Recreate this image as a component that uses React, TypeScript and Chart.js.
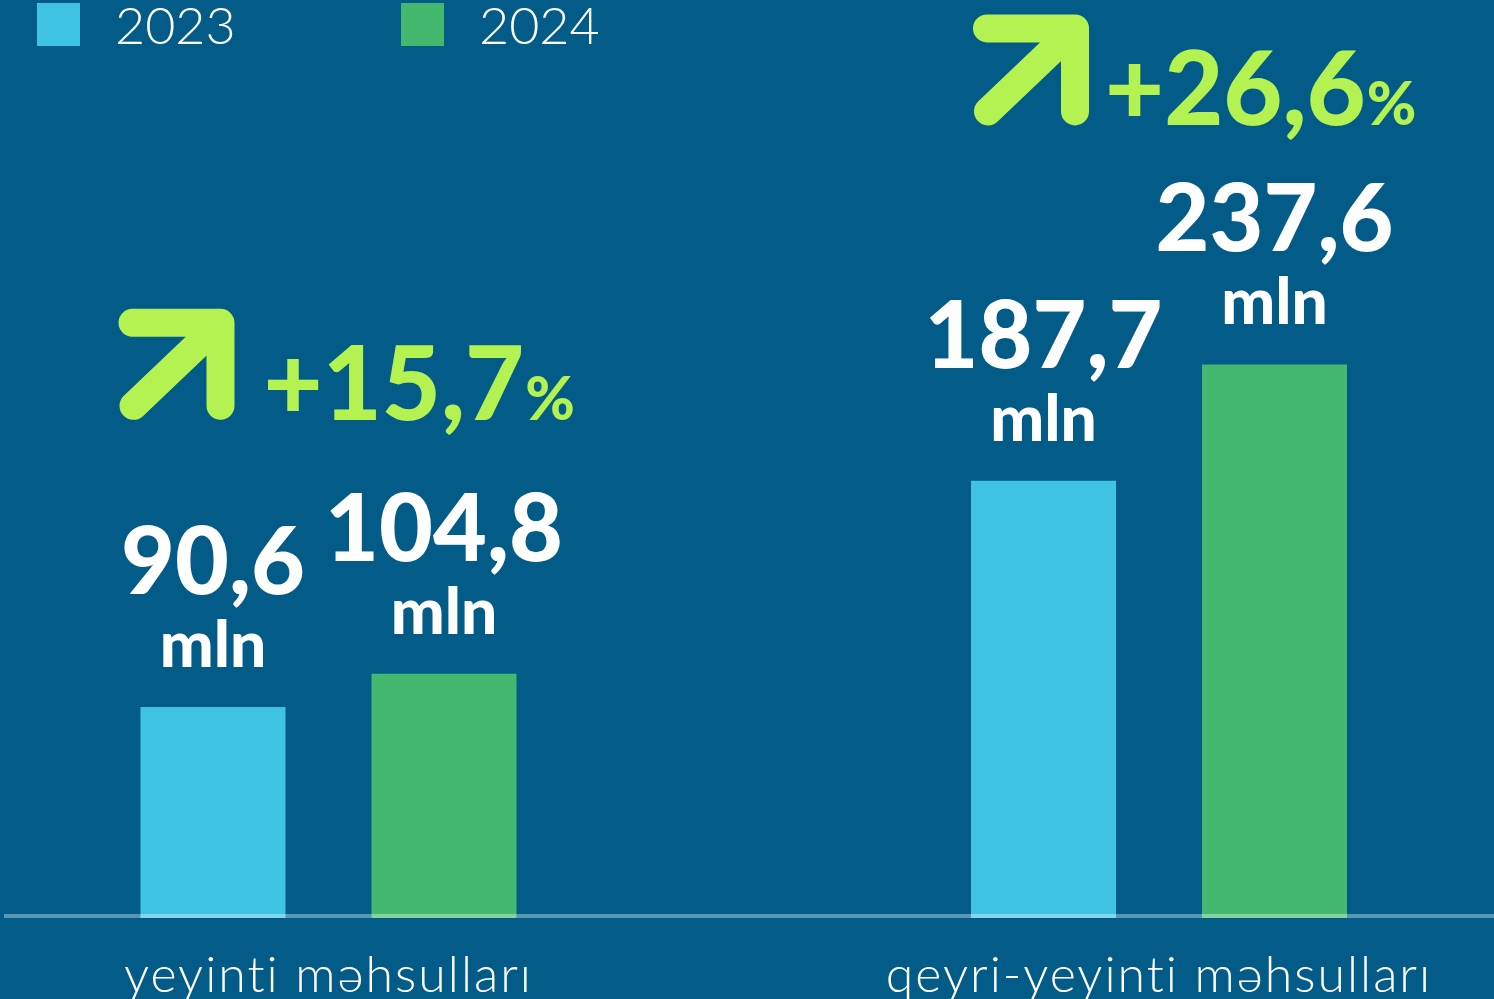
import React, { useEffect, useRef } from 'react';
import { Chart, registerables } from 'chart.js';

Chart.register(...registerables);

// ---- data ----
const categories = ['yeyinti məhsulları', 'qeyri-yeyinti məhsulları'];
const seriesLabels = ['2023', '2024'];
const values2023 = [90.6, 187.7];
const values2024 = [104.8, 237.6];
const growthTexts = ['+15,7', '+26,6'];
const unitLabel = 'mln';
const percentSign = '%';

// ---- styles ----
const BG = '#035c87';
const BLUE = '#3ec4e2';
const GREEN = '#45b870';
const LIME = '#b4f251';
const FONT = 'Lato, "Noto Sans", sans-serif';
const W = 1494;
const H = 1010;

const fmt = (v: number) => v.toFixed(1).replace('.', ',');

const spacingPlugin = {
  id: 'letterSpacing',
  beforeDraw(chart: any) {
    chart.ctx.letterSpacing = '2px';
  },
};

const legendPlugin = {
  id: 'customLegend',
  afterDraw(chart: any) {
    const ctx = chart.ctx;
    ctx.save();
    ctx.letterSpacing = '0px';
    ctx.textAlign = 'left';
    ctx.textBaseline = 'alphabetic';
    ctx.font = `300 52px ${FONT}`;
    chart.data.datasets.forEach((ds: any, i: number) => {
      const x = 37 + i * 364;
      ctx.fillStyle = ds.backgroundColor;
      ctx.fillRect(x, 3, 43, 43);
      ctx.fillStyle = '#ffffff';
      ctx.fillText(ds.label, x + 78, 44);
    });
    ctx.restore();
  },
};

const baselinePlugin = {
  id: 'baseline',
  afterDatasetsDraw(chart: any) {
    const ctx = chart.ctx;
    const y = chart.scales.y.getPixelForValue(0) - 2;
    ctx.save();
    ctx.strokeStyle = 'rgba(255,255,255,0.35)';
    ctx.lineWidth = 4;
    ctx.beginPath();
    ctx.moveTo(4, y);
    ctx.lineTo(chart.width, y);
    ctx.stroke();
    ctx.restore();
  },
};

const valueLabelPlugin = {
  id: 'valueLabels',
  afterDatasetsDraw(chart: any) {
    const ctx = chart.ctx;
    ctx.save();
    ctx.letterSpacing = '0px';
    ctx.fillStyle = '#ffffff';
    ctx.textAlign = 'center';
    ctx.textBaseline = 'alphabetic';
    chart.data.datasets.forEach((ds: any, di: number) => {
      const meta = chart.getDatasetMeta(di);
      meta.data.forEach((bar: any, i: number) => {
        ctx.font = `900 93px ${FONT}`;
        ctx.fillText(fmt(ds.data[i]), bar.x, bar.y - 113);
        ctx.font = `900 64px ${FONT}`;
        ctx.fillText(unitLabel, bar.x, bar.y - 40);
      });
    });
    ctx.restore();
  },
};

// layout tweaks for the growth badges (pixel offsets, per category)
const badgeShiftX = [-22, 2];
const badgeGapY = [73, 58];
const badgeTextGap = [145, 132];

const drawArrow = (ctx: any, ax: number, ay: number) => {
  ctx.save();
  ctx.strokeStyle = LIME;
  ctx.lineWidth = 28;
  ctx.lineCap = 'round';
  ctx.lineJoin = 'round';
  ctx.beginPath();
  ctx.moveTo(ax + 14, ay + 14);
  ctx.lineTo(ax + 102, ay + 14);
  ctx.lineTo(ax + 102, ay + 97);
  ctx.stroke();
  ctx.beginPath();
  ctx.moveTo(ax + 100, ay + 16);
  ctx.lineTo(ax + 15, ay + 97);
  ctx.stroke();
  ctx.restore();
};

const growthPlugin = {
  id: 'growth',
  afterDatasetsDraw(chart: any) {
    const ctx = chart.ctx;
    const metas = chart.data.datasets.map((_: any, di: number) => chart.getDatasetMeta(di));
    categories.forEach((_, i) => {
      const bars = metas.map((m: any) => m.data[i]);
      const topY = Math.min(...bars.map((b: any) => b.y));
      const leftX = Math.min(...bars.map((b: any) => b.x - b.width / 2));
      const baseline = topY - 113 - 68 - badgeGapY[i];
      const ax = leftX + badgeShiftX[i];
      drawArrow(ctx, ax, baseline - 111);
      ctx.save();
      ctx.letterSpacing = '0px';
      ctx.fillStyle = LIME;
      ctx.textAlign = 'left';
      ctx.textBaseline = 'alphabetic';
      ctx.font = `900 102px ${FONT}`;
      const tx = ax + badgeTextGap[i];
      ctx.fillText(growthTexts[i], tx, baseline);
      const tw = ctx.measureText(growthTexts[i]).width;
      ctx.font = `900 60px ${FONT}`;
      ctx.fillText(percentSign, tx + tw + 1, baseline);
      ctx.restore();
    });
  },
};

export default function App() {
  const ref = useRef<HTMLCanvasElement | null>(null);

  useEffect(() => {
    if (!ref.current) return;
    const chart = new Chart(ref.current, {
      type: 'bar',
      data: {
        labels: categories,
        datasets: [
          {
            label: seriesLabels[0],
            data: values2023,
            backgroundColor: BLUE,
            borderWidth: 0,
            categoryPercentage: 0.5563,
            barPercentage: 0.6277,
            clip: false,
          } as any,
          {
            label: seriesLabels[1],
            data: values2024,
            backgroundColor: GREEN,
            borderWidth: 0,
            categoryPercentage: 0.5563,
            barPercentage: 0.6277,
            clip: false,
          } as any,
        ],
      },
      options: {
        responsive: false,
        animation: false,
        layout: { padding: { left: 328.5, right: 335, top: 335.5, bottom: 0 } },
        plugins: {
          legend: { display: false },
          tooltip: { enabled: false },
          title: { display: false },
        },
        scales: {
          x: {
            offset: false,
            grid: { display: false, drawTicks: false },
            border: { display: false },
            ticks: {
              color: '#ffffff',
              font: { family: FONT, size: 50, weight: '300' as any },
              padding: 28,
              maxRotation: 0,
              autoSkip: false,
            },
            afterFit(scale: any) {
              scale.height = 92;
            },
          },
          y: {
            display: false,
            min: 0,
            max: 250,
          },
        },
      },
      plugins: [spacingPlugin, baselinePlugin, valueLabelPlugin, growthPlugin, legendPlugin],
    });
    return () => chart.destroy();
  }, []);

  return (
    <div
      style={{
        position: 'fixed',
        left: 0,
        top: 0,
        width: W,
        height: 999,
        overflow: 'hidden',
        background: BG,
      }}
    >
      <canvas ref={ref} width={W} height={H} style={{ display: 'block', width: W, height: H }} />
    </div>
  );
}
